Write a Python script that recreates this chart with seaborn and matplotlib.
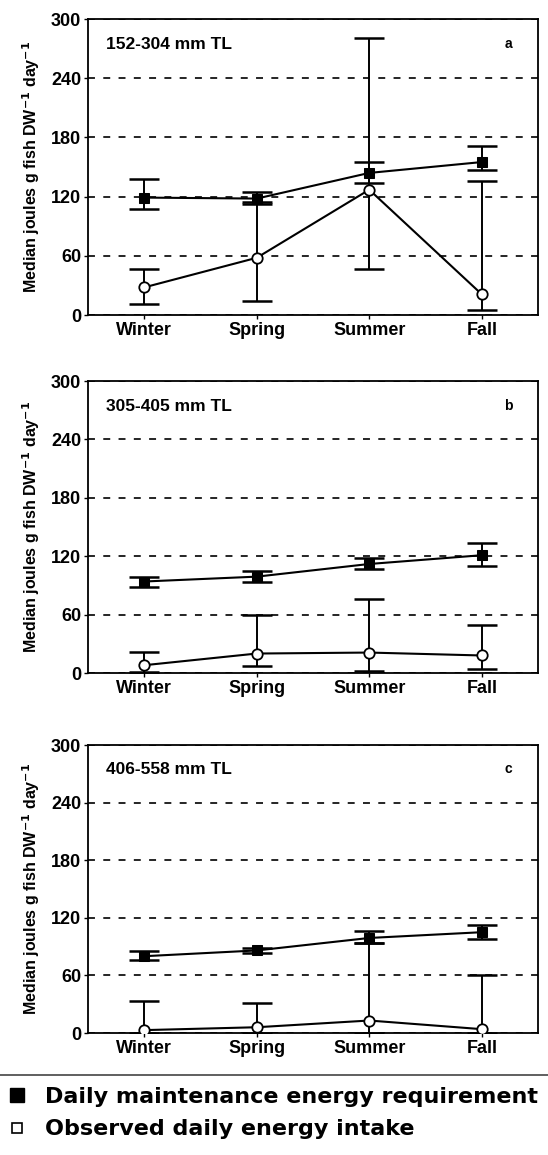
import numpy as np
import pandas as pd
import matplotlib
matplotlib.use("Agg")
import matplotlib.pyplot as plt
from matplotlib.lines import Line2D
import seaborn as sns

seasons = ["Winter", "Spring", "Summer", "Fall"]
panel_titles = ["152-304 mm TL", "305-405 mm TL", "406-558 mm TL"]
panel_letters = ["a", "b", "c"]

# Daily maintenance energy requirement (median, lower, upper)
req_a = [119, 118, 144, 155]
req_a_lo = [107, 113, 134, 147]
req_a_hi = [138, 125, 155, 171]
req_b = [94, 99, 112, 121]
req_b_lo = [88, 94, 107, 110]
req_b_hi = [99, 105, 118, 134]
req_c = [80, 86, 99, 105]
req_c_lo = [76, 83, 94, 98]
req_c_hi = [85, 89, 106, 113]

# Observed daily energy intake (median, lower, upper)
obs_a = [28, 58, 127, 21]
obs_a_lo = [11, 14, 47, 5]
obs_a_hi = [47, 115, 281, 136]
obs_b = [8, 20, 21, 18]
obs_b_lo = [1, 7, 2, 4]
obs_b_hi = [22, 60, 76, 49]
obs_c = [3, 6, 13, 4]
obs_c_lo = [0, 0, 0, 0]
obs_c_hi = [33, 31, 94, 60]

yticks = [0, 60, 120, 180, 240, 300]
legend_labels = ["Daily maintenance energy requirement", "Observed daily energy intake"]

panels = [
    (req_a, req_a_lo, req_a_hi, obs_a, obs_a_lo, obs_a_hi),
    (req_b, req_b_lo, req_b_hi, obs_b, obs_b_lo, obs_b_hi),
    (req_c, req_c_lo, req_c_hi, obs_c, obs_c_lo, obs_c_hi),
]

sns.set_style("ticks")
plt.rcParams["font.family"] = ["Liberation Sans", "DejaVu Sans"]
plt.rcParams["font.weight"] = "bold"
plt.rcParams["mathtext.default"] = "bf"
plt.rcParams["lines.scale_dashes"] = False
for k in ["text.color", "axes.labelcolor", "xtick.color", "ytick.color", "axes.edgecolor"]:
    plt.rcParams[k] = "black"

fig = plt.figure(figsize=(5.48, 11.55), dpi=100)
W, H = 548, 1155
boxes = [(19, 315), (381, 673), (745, 1033)]
left, right = 88, 538

for i, (req, rlo, rhi, obs, olo, ohi) in enumerate(panels):
    top, bot = boxes[i]
    ax = fig.add_axes([left / W, 1 - bot / H, (right - left) / W, (bot - top) / H])
    df = pd.DataFrame({"season": seasons, "x": np.arange(len(seasons)),
                       "req": req, "obs": obs})
    ax.errorbar(df["x"], obs, yerr=[np.array(obs) - np.array(olo), np.array(ohi) - np.array(obs)],
                fmt="none", ecolor="black", elinewidth=1.4, capsize=10.5, capthick=1.8, zorder=2)
    ax.errorbar(df["x"], req, yerr=[np.array(req) - np.array(rlo), np.array(rhi) - np.array(req)],
                fmt="none", ecolor="black", elinewidth=1.4, capsize=10.5, capthick=1.8, zorder=2)
    sns.lineplot(data=df, x="x", y="obs", ax=ax, color="black", lw=1.5,
                 marker="o", markersize=7.5, markerfacecolor="white",
                 markeredgecolor="black", markeredgewidth=1.3, zorder=3)
    sns.lineplot(data=df, x="x", y="req", ax=ax, color="black", lw=1.5,
                 marker="s", markersize=7.5, markerfacecolor="black",
                 markeredgecolor="black", zorder=4)
    ax.set_xlim(-0.5, 3.5)
    ax.set_ylim(0, 300)
    ax.set_xticks(np.arange(len(seasons)))
    ax.set_xticklabels(seasons, fontsize=13, fontweight="bold")
    ax.set_yticks(yticks)
    ax.set_yticklabels([str(t) for t in yticks], fontsize=13, fontweight="bold")
    ax.tick_params(axis="both", direction="out", length=3, width=1, pad=2, colors="black")
    ax.grid(axis="y", color="black", linestyle=(0, (5, 6)), linewidth=1.2)
    for s in ax.spines.values():
        s.set_visible(True)
        s.set_linewidth(1.3)
        s.set_color("black")
    ax.set_xlabel("")
    ax.set_ylabel("Median joules g fish DW$^{-1}$ day$^{-1}$",
                  fontsize=11.5, fontweight="bold", labelpad=6)
    ax.text(0.04, 0.94, panel_titles[i], transform=ax.transAxes, fontsize=12.5,
            fontweight="bold", va="top", ha="left")
    ax.text(0.935, 0.94, panel_letters[i], transform=ax.transAxes, fontsize=10,
            fontweight="bold", va="top", ha="center")

fig.add_artist(Line2D([0, 1], [1 - 1075 / H, 1 - 1075 / H], color="#444444", lw=1.2))
handles = [
    Line2D([], [], marker="s", linestyle="none", markersize=9.5, markerfacecolor="black",
           markeredgecolor="black"),
    Line2D([], [], marker="s", linestyle="none", markersize=7, markerfacecolor="white",
           markeredgecolor="black", markeredgewidth=1.2),
]
fig.legend(handles, legend_labels,
           loc="upper left", bbox_to_anchor=(6 / W, 1 - 1087 / H), frameon=False,
           prop={"size": 16, "weight": "bold", "family": "DejaVu Sans"},
           handlelength=1.0, handletextpad=0.75,
           labelspacing=0.56, borderaxespad=0.0, borderpad=0.0)

fig.savefig("out.png", dpi=100)
